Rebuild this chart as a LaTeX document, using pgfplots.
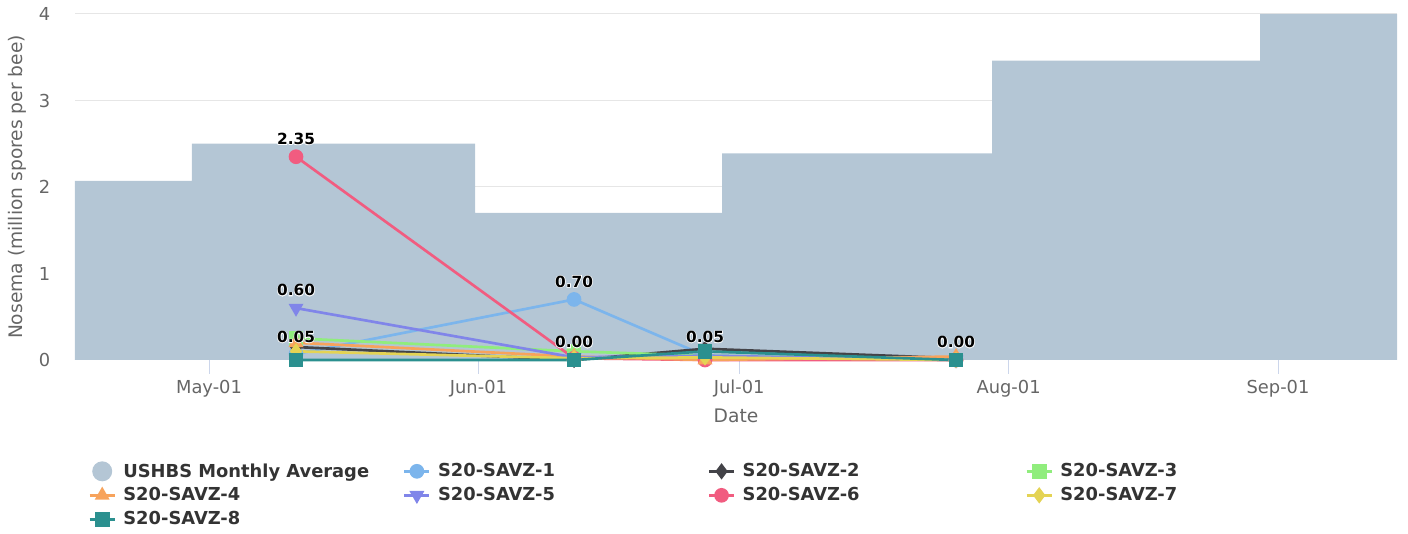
\documentclass[border=0pt]{standalone}
\usepackage{fontspec}
\setmainfont{DejaVu Sans}
\newfontfamily\halofont{DejaVu Sans Bold}[FakeBold=9]
\usepackage{pgfplots}
\pgfplotsset{compat=1.18}

\definecolor{areacol}{RGB}{180,198,213}
\definecolor{gridcol}{RGB}{230,230,230}
\definecolor{tickcol}{RGB}{204,214,235}
\definecolor{labcol}{RGB}{102,102,102}
\definecolor{legcol}{RGB}{51,51,51}
\definecolor{s1}{HTML}{7CB5EC}
\definecolor{s2}{HTML}{434348}
\definecolor{s3}{HTML}{90ED7D}
\definecolor{s4}{HTML}{F7A35C}
\definecolor{s5}{HTML}{8085E9}
\definecolor{s6}{HTML}{F15C80}
\definecolor{s7}{HTML}{E4D354}
\definecolor{s8}{HTML}{2B908F}

% data label with a white halo, 13.5pt above the point
\newcommand{\halo}[2]{%
  \node[font=\fontsize{11.5}{13}\halofont, text=white] at ([yshift=13.5pt]#1) {#2};
  \node[font=\fontsize{11.5}{13}\bfseries, text=black] at ([yshift=13.5pt]#1) {#2};
}
% legend column widths
\newcommand{\ca}[1]{\makebox[209.75pt][l]{#1}}
\newcommand{\cb}[1]{\makebox[202.25pt][l]{#1}}
\newcommand{\cc}[1]{\makebox[212pt][l]{#1}}

\begin{document}
\begin{tikzpicture}
\begin{axis}[
  at={(0,0)}, anchor=south west,
  scale only axis, width=991.5pt, height=259.5pt,
  xmin=14.58, xmax=166.69, ymin=0, ymax=4,
  clip=false,
  axis line style={draw=none},
  xtick={30,61,91,122,153},
  xticklabels={May-01,Jun-01,Jul-01,Aug-01,Sep-01},
  ytick={0,1,2,3,4},
  xtick pos=left, ytick pos=left,
  tick align=outside, major tick length=10.5pt,
  xtick style={draw=tickcol, line width=0.75pt},
  ytick style={draw=none},
  ymajorgrids, major grid style={draw=gridcol, line width=0.75pt},
  /pgf/number format/assume math mode=true,
  tick label style={font=\fontsize{13.4}{16}\selectfont, text=labcol},
  yticklabel style={xshift=-3.8pt},
  xlabel={Date}, ylabel={Nosema (million spores per bee)},
  label style={font=\fontsize{14}{17}\selectfont, text=labcol},
  xlabel style={at={(axis description cs:0.5,-0.162)}, anchor=center},
  ylabel style={at={(axis description cs:-0.0439,0.5)}, anchor=center, rotate=0},
  line width=2pt,
  every axis plot/.append style={mark size=4.5pt, mark options={solid}},
  legend columns=4,
  legend style={at={(rel axis cs:0.0091,-0.2832)}, anchor=north west,
    draw=none, fill=none, inner sep=0pt, row sep=0pt, column sep=0pt,
    /tikz/every odd column/.append style={column sep=5.5pt},
    nodes={inner sep=0pt, minimum height=18pt, anchor=west,
      font=\fontsize{13.4}{16}\bfseries, text=legcol}},
  legend image code/.code={%
    \draw[mark repeat=2,mark phase=2] plot coordinates {(0pt,0pt) (9.4pt,0pt) (18.75pt,0pt)};},
]
\addplot[const plot, fill=areacol, draw=none, mark=none,
  legend image code/.code={\fill[areacol] (9.4pt,0pt) circle (7.5pt);}]
  coordinates {(14.58,2.07) (28.04,2.50) (60.61,1.70) (89.03,2.39) (120.10,3.46) (150.93,4.0) (166.69,4.0)} \closedcycle;
\addlegendentry{\ca{USHBS Monthly Average}}

\addplot[color=s1, mark=*] coordinates {(40.01,0.07) (72.0,0.70) (87.07,0.05) (115.95,0.0)};
\addlegendentry{\cb{S20-SAVZ-1}}
\addplot[color=s2, mark=diamond*] coordinates {(40.01,0.15) (72.0,0.0) (87.07,0.13) (115.95,0.02)};
\addlegendentry{\cc{S20-SAVZ-2}}
\addplot[color=s3, mark=square*] coordinates {(40.01,0.25) (72.0,0.10) (87.07,0.05) (115.95,0.0)};
\addlegendentry{S20-SAVZ-3}
\addplot[color=s6, mark=*, forget plot] coordinates {(40.01,2.35) (72.0,0.02) (87.07,0.0) (115.95,0.0)};
\addplot[color=s4, mark=triangle*] coordinates {(40.01,0.20) (72.0,0.04) (87.07,0.0) (115.95,0.04)};
\addlegendentry{\ca{S20-SAVZ-4}}
\addplot[color=s5, mark=triangle*, mark options={rotate=180}] coordinates {(40.01,0.60) (72.0,0.03) (87.07,0.05) (115.95,0.0)};
\addlegendentry{\cb{S20-SAVZ-5}}
\addlegendimage{color=s6, mark=*, mark size=4.5pt, line width=2pt}
\addlegendentry{\cc{S20-SAVZ-6}}
\addplot[color=s7, mark=diamond*] coordinates {(40.01,0.10) (72.0,0.02) (87.07,0.03) (115.95,0.0)};
\addlegendentry{S20-SAVZ-7}
\addplot[color=s8, mark=square*] coordinates {(40.01,0.0) (72.0,0.0) (87.07,0.10) (115.95,0.0)};
\addlegendentry{\ca{S20-SAVZ-8}}

\coordinate (L1) at (axis cs:40.01,2.35);
\coordinate (L2) at (axis cs:40.01,0.60);
\coordinate (L3) at (axis cs:40.01,0.06);
\coordinate (L4) at (axis cs:72.0,0.70);
\coordinate (L5) at (axis cs:72.0,0.0);
\coordinate (L6) at (axis cs:87.07,0.06);
\coordinate (L7) at (axis cs:115.95,0.0);
\end{axis}
\halo{L1}{2.35}
\halo{L2}{0.60}
\halo{L3}{0.05}
\halo{L4}{0.70}
\halo{L5}{0.00}
\halo{L6}{0.05}
\halo{L7}{0.00}
\pgfresetboundingbox
\path (-56.25pt,-130.5pt) rectangle (999.75pt,270pt);
\end{tikzpicture}
\end{document}
